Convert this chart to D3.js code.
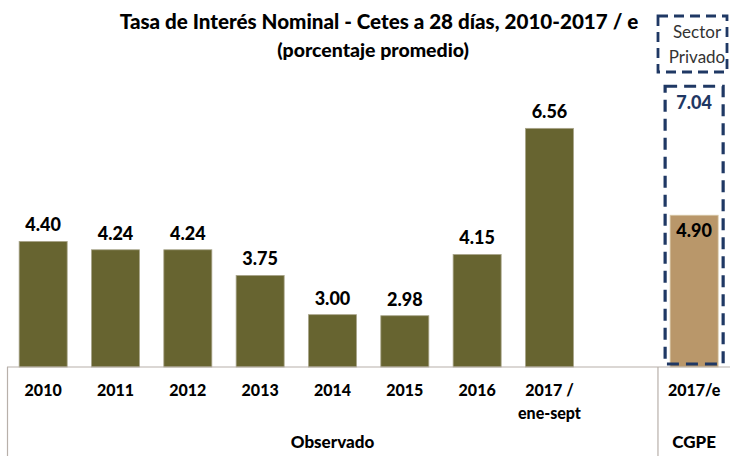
<!DOCTYPE html>
<html>
<head>
<meta charset="utf-8">
<script src="https://cdn.jsdelivr.net/npm/d3@7"></script>
<style>
  body { margin: 0; background: #fff; }
  svg { display: block; font-family: Lato, "Open Sans", sans-serif; }
</style>
</head>
<body>
<svg width="730" height="456"></svg>
<script>
// datos
var years = ["2010", "2011", "2012", "2013", "2014", "2015", "2016", "2017 /", "", "2017/e"];
var subLabels = ["", "", "", "", "", "", "", "ene-sept", "", ""];
var observed = [4.40, 4.24, 4.24, 3.75, 3.00, 2.98, 4.15, 6.56];
var cgpe = 4.90;
var privado = 7.04;
var groups = [{name: "Observado", from: 0, to: 8}, {name: "CGPE", from: 9, to: 9}];

var svg = d3.select("svg");
var baseY = 367;

var x = d3.scaleBand()
  .domain(d3.range(years.length))
  .range([7, 730.3])
  .paddingInner(0.336)
  .paddingOuter(0.168);

var y = d3.scaleLinear()
  .domain([2, 8])
  .range([baseY, 53]);

// titulo
svg.append("text")
  .attr("x", 379).attr("y", 29)
  .attr("text-anchor", "middle")
  .attr("font-weight", "900")
  .attr("font-size", 20.6)
  .attr("fill", "#000")
  .text("Tasa de Interés Nominal - Cetes a 28 días, 2010-2017 / e");

svg.append("text")
  .attr("x", 373).attr("y", 57)
  .attr("text-anchor", "middle")
  .attr("font-weight", "900")
  .attr("font-size", 19.5)
  .attr("fill", "#000")
  .text("(porcentaje promedio)");

// barras observadas
svg.selectAll(".obs")
  .data(observed)
  .enter()
  .append("rect")
  .attr("class", "obs")
  .attr("x", function(d, i) { return x(i); })
  .attr("y", function(d) { return y(d); })
  .attr("width", x.bandwidth())
  .attr("height", function(d) { return baseY - y(d); })
  .attr("fill", "#676430")
  .attr("stroke", "#a9a58a")
  .attr("stroke-width", 0.8);

svg.selectAll(".obsLabel")
  .data(observed)
  .enter()
  .append("text")
  .attr("class", "obsLabel")
  .attr("x", function(d, i) { return x(i) + x.bandwidth() / 2; })
  .attr("y", function(d) { return y(d) - 10; })
  .attr("text-anchor", "middle")
  .attr("font-weight", "900")
  .attr("font-size", 18)
  .attr("fill", "#000")
  .text(function(d) { return d.toFixed(2); });

// barra CGPE
var ci = 9;
svg.append("rect")
  .attr("x", x(ci))
  .attr("y", y(cgpe))
  .attr("width", x.bandwidth())
  .attr("height", baseY - y(cgpe))
  .attr("fill", "#b9976a")
  .attr("stroke", "#d8c8a8")
  .attr("stroke-width", 0.8);

svg.append("text")
  .attr("x", x(ci) + x.bandwidth() / 2)
  .attr("y", y(cgpe) + 22)
  .attr("text-anchor", "middle")
  .attr("font-weight", "900")
  .attr("font-size", 18)
  .attr("fill", "#000")
  .text(cgpe.toFixed(2));

// recuadro sector privado (punteado)
svg.append("rect")
  .attr("x", x(ci) - 5)
  .attr("y", y(privado) - 17)
  .attr("width", x.bandwidth() + 10)
  .attr("height", baseY - 3 - (y(privado) - 17))
  .attr("fill", "none")
  .attr("stroke", "#1f3864")
  .attr("stroke-width", 3.2)
  .attr("stroke-dasharray", "12,7");

svg.append("text")
  .attr("x", x(ci) + x.bandwidth() / 2)
  .attr("y", y(privado) + 6)
  .attr("text-anchor", "middle")
  .attr("font-weight", "900")
  .attr("font-size", 18)
  .attr("fill", "#1f3864")
  .text(privado.toFixed(2));

// leyenda "Sector Privado"
svg.append("rect")
  .attr("x", 658).attr("y", 16)
  .attr("width", 69).attr("height", 56)
  .attr("fill", "none")
  .attr("stroke", "#1f3864")
  .attr("stroke-width", 2.8)
  .attr("stroke-dasharray", "10,6");

svg.append("text")
  .attr("x", 697).attr("y", 38)
  .attr("text-anchor", "middle")
  .attr("font-size", 17)
  .attr("fill", "#333")
  .text("Sector");

svg.append("text")
  .attr("x", 697).attr("y", 63)
  .attr("text-anchor", "middle")
  .attr("font-size", 17)
  .attr("fill", "#333")
  .text("Privado");

// eje de categorias
var axisColor = "#b8b0aa";
svg.append("line")
  .attr("x1", 7).attr("x2", 730)
  .attr("y1", baseY).attr("y2", baseY)
  .attr("stroke", axisColor).attr("stroke-width", 1.2);

svg.append("line")
  .attr("x1", 7.5).attr("x2", 7.5)
  .attr("y1", baseY).attr("y2", 456)
  .attr("stroke", axisColor).attr("stroke-width", 1.2);

svg.append("line")
  .attr("x1", x(ci) - x.step() * 0.168).attr("x2", x(ci) - x.step() * 0.168)
  .attr("y1", baseY).attr("y2", 456)
  .attr("stroke", axisColor).attr("stroke-width", 1.2);

svg.selectAll(".cat")
  .data(years)
  .enter()
  .append("text")
  .attr("class", "cat")
  .attr("x", function(d, i) { return x(i) + x.bandwidth() / 2; })
  .attr("y", 396)
  .attr("text-anchor", "middle")
  .attr("font-weight", "900")
  .attr("font-size", 16)
  .attr("fill", "#000")
  .text(function(d) { return d; });

svg.selectAll(".sub")
  .data(subLabels)
  .enter()
  .append("text")
  .attr("class", "sub")
  .attr("x", function(d, i) { return x(i) + x.bandwidth() / 2; })
  .attr("y", 419)
  .attr("text-anchor", "middle")
  .attr("font-weight", "900")
  .attr("font-size", 16)
  .attr("fill", "#000")
  .text(function(d) { return d; });

svg.selectAll(".grp")
  .data(groups)
  .enter()
  .append("text")
  .attr("class", "grp")
  .attr("x", function(d) {
    return (x(d.from) + x(d.to) + x.bandwidth()) / 2;
  })
  .attr("y", 448)
  .attr("text-anchor", "middle")
  .attr("font-weight", "900")
  .attr("font-size", 17)
  .attr("fill", "#000")
  .text(function(d) { return d.name; });
</script>
</body>
</html>
